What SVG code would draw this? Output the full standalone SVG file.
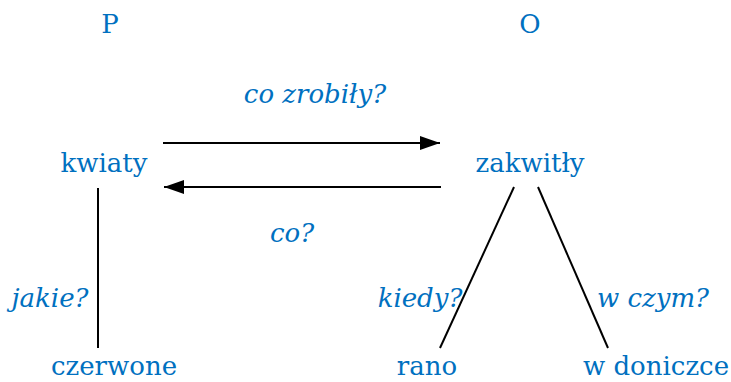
<svg xmlns="http://www.w3.org/2000/svg" width="731" height="382" viewBox="0 0 731 382">
<style>
text{font-family:"DejaVu Serif",serif;font-size:26px;fill:#0070C0;text-anchor:middle}
.q{font-style:italic}
.c line{stroke:#000;stroke-width:2}
</style>
<defs>
<marker id="ah" markerWidth="20" markerHeight="14" refX="20" refY="7" orient="auto" markerUnits="userSpaceOnUse" viewBox="0 0 20 14">
<path d="M0,0 L20,7 L0,14 z" fill="#000"/>
</marker>
</defs>
<rect width="731" height="382" fill="#fff"/>
<g id="hP"><text x="110" y="33">P</text></g>
<g id="hO"><text x="530" y="33">O</text></g>
<g id="kwiaty"><text x="104" y="172">kwiaty</text></g>
<g id="zakwitly"><text x="530" y="172">zakwitły</text></g>
<g id="czerwone"><text x="114" y="375">czerwone</text></g>
<g id="rano"><text x="427" y="375">rano</text></g>
<g id="wdoniczce"><text x="656" y="375">w doniczce</text></g>
<g class="c" id="connectors">
<line x1="163" y1="143" x2="440" y2="143" marker-end="url(#ah)"/>
<line x1="441" y1="187" x2="164" y2="187" marker-end="url(#ah)"/>
<line x1="98" y1="188" x2="98" y2="348"/>
<line x1="514" y1="187" x2="440" y2="348"/>
<line x1="538" y1="187" x2="608" y2="348"/>
</g>
<g id="labels">
<text class="q" x="315" y="103">co zrobiły?</text>
<text class="q" x="292" y="242">co?</text>
<text class="q" x="50" y="307">jakie?</text>
<text class="q" x="420" y="307">kiedy?</text>
<text class="q" x="653" y="307">w czym?</text>
</g>
</svg>
